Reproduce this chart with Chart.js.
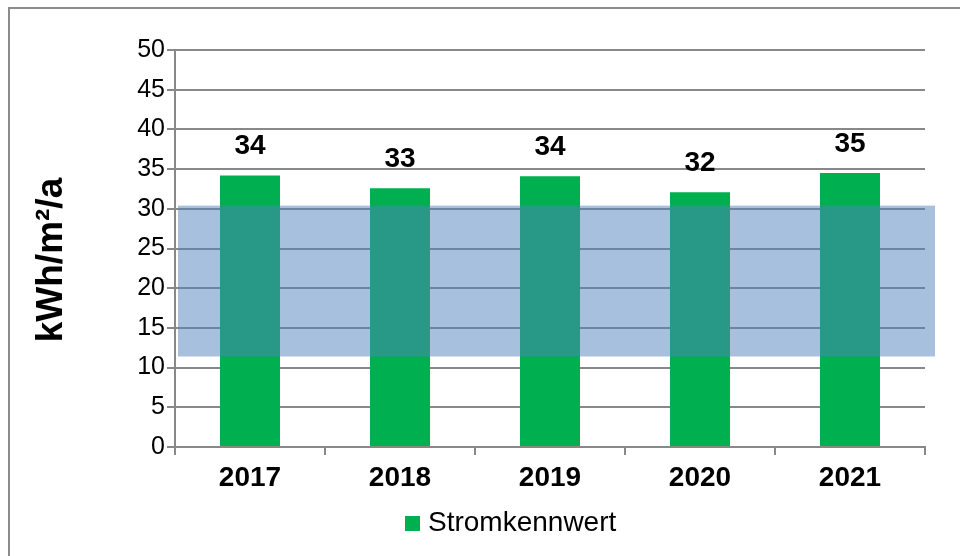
<!DOCTYPE html>
<html>
<head>
<meta charset="utf-8">
<script src="https://cdn.jsdelivr.net/npm/chart.js@4"></script>
<style>
  body { margin: 0; background: #fff; }
  #wrap { position: relative; width: 960px; height: 556px; }
  #frame { position: absolute; left: 8px; top: 7px; width: 960px; height: 560px; border-left: 2px solid #8c8c8c; border-top: 2px solid #8c8c8c; pointer-events: none; }
</style>
</head>
<body>
<div id="wrap">
  <canvas id="barChart" width="960" height="556"></canvas>
  <div id="frame"></div>
</div>
<script>
// bar chart

const labels = ['2017', '2018', '2019', '2020', '2021'];
const werte = [34.2, 32.6, 34.1, 32.1, 34.5];
const bandBereich = [11.4, 30.4];   // blaues Band (Zielbereich)
const yTicks = [0, 5, 10, 15, 20, 25, 30, 35, 40, 45, 50];
const yTitel = 'kWh/m²/a';

const FONT = '"Liberation Sans", Arial, sans-serif';
Chart.defaults.font.family = FONT;
Chart.defaults.color = '#000';

// blaues Band ueber den Balken
const bandPlugin = {
    id: 'band',
    afterDatasetsDraw(chart) {
        const ctx = chart.ctx;
        const y = chart.scales.y;
        const area = chart.chartArea;
        const top = y.getPixelForValue(bandBereich[1]);
        const bottom = y.getPixelForValue(bandBereich[0]);
        ctx.save();
        ctx.fillStyle = 'rgba(79, 129, 189, 0.5)';
        ctx.fillRect(area.left + 3, top, area.right - area.left + 7, bottom - top);
        ctx.restore();
    }
};

// Werte ueber den Balken, Achsentitel und Legende
const textPlugin = {
    id: 'texte',
    afterDraw(chart) {
        const ctx = chart.ctx;
        const meta = chart.getDatasetMeta(0);
        const ds = chart.data.datasets[0];
        ctx.save();
        ctx.fillStyle = '#000';
        ctx.textAlign = 'center';
        ctx.textBaseline = 'middle';
        ctx.font = 'bold 28px ' + FONT;
        meta.data.forEach((bar, i) => {
            ctx.fillText(Math.round(werte[i]), bar.x, bar.y - 29);
        });

        // y-Achsentitel
        ctx.save();
        ctx.translate(52, 260);
        ctx.rotate(-Math.PI / 2);
        ctx.font = 'bold 37px ' + FONT;
        ctx.fillText(yTitel, 0, 0);
        ctx.restore();

        // Legende
        ctx.fillStyle = ds.backgroundColor;
        ctx.fillRect(405, 516, 15, 15);
        ctx.fillStyle = '#000';
        ctx.textAlign = 'left';
        ctx.font = '28px ' + FONT;
        ctx.fillText(ds.label, 428, 523);
        ctx.restore();
    }
};

const barChart = document.querySelector('#barChart');

new Chart(barChart, {
    type: 'bar',
    data: {
        labels: labels,
        datasets: [
            {
                label: 'Stromkennwert',
                data: werte,
                backgroundColor: 'rgba(0, 176, 80, 1)',
                categoryPercentage: 1,
                barPercentage: 0.4,
            }
        ]
    },
    options: {
        responsive: false,
        animation: false,
        layout: { padding: { left: 0, right: 35, top: 50, bottom: 57 } },
        plugins: {
            tooltip: { enabled: false },
            legend: { display: false }
        },
        scales: {
            x: {
                grid: {
                    offset: true,
                    drawOnChartArea: false,
                    drawTicks: true,
                    tickLength: 8,
                    color: '#888',
                    lineWidth: 2,
                },
                border: { color: '#888', width: 2 },
                ticks: { font: { size: 28, weight: 'bold' }, padding: 6 },
                afterFit(scale) { scale.height = 52; }
            },
            y: {
                min: 0,
                max: 50,
                afterBuildTicks(scale) { scale.ticks = yTicks.map(v => ({ value: v })); },
                grid: { color: '#888', lineWidth: 2, tickLength: 8 },
                border: { color: '#888', width: 2 },
                ticks: { font: { size: 25 }, padding: 2 },
                afterFit(scale) { scale.width = 175; }
            }
        }
    },
    plugins: [bandPlugin, textPlugin]
});
</script>
</body>
</html>
